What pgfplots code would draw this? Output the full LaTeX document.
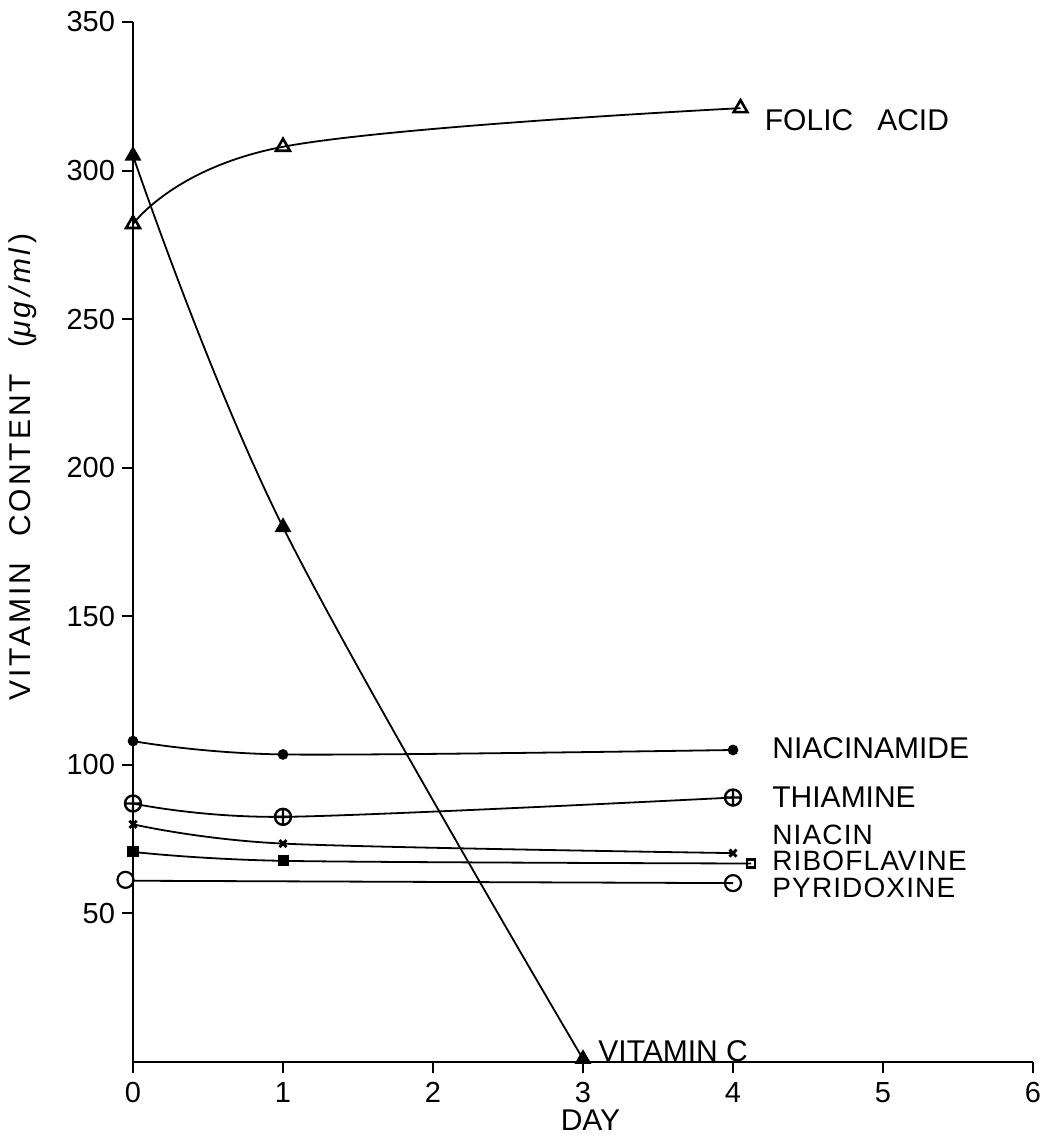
\documentclass[border=0pt]{standalone}
\usepackage{pgfplots}
\pgfplotsset{compat=1.18}
\usepackage{fontspec}
\setmainfont{Liberation Sans}
\newfontfamily\ylbl[LetterSpace=10]{Liberation Sans}
\newfontfamily\slbl[LetterSpace=4]{Liberation Sans}
\begin{document}
\begin{tikzpicture}
\begin{axis}[
  at={(0,0)}, anchor=south west,
  scale only axis, width=450pt, height=520pt,
  xmin=0, xmax=6, ymin=0, ymax=350,
  axis x line*=bottom, axis y line*=left,
  axis line style={-, line width=1.2pt},
  xtick={0,1,2,3,4,5,6}, ytick={50,100,150,200,250,300,350},
  tick align=outside, major tick length=5.5pt,
  tick style={line width=1pt, black},
  ticklabel style={font=\fontsize{14.5}{16}\selectfont},
  xticklabel style={yshift=-1pt},
  /pgf/number format/assume math mode=true,
  clip=false,
  every axis plot/.append style={line width=0.9pt, black},
]
% Folic acid
\addplot[smooth, tension=0.65, mark=triangle, mark size=4pt, mark options={line width=1.3pt, fill=white}] coordinates {(0,282) (1,308) (4.05,321)};
% Vitamin C
\addplot[smooth, tension=0.6, mark=triangle*, mark size=4pt] coordinates {(0,305) (1,180) (3,1)};
% Niacinamide
\addplot[smooth, mark=*, mark size=2.2pt] coordinates {(0,108) (1,103.5) (4,105)};
% Thiamine
\addplot[smooth, mark=oplus, mark size=4pt, mark options={line width=1.2pt, fill=white}] coordinates {(0,87) (1,82.5) (4,89)};
% Niacin
\addplot[smooth, mark=x, mark size=2.5pt, mark options={line width=1.4pt}] coordinates {(0,80) (1,73.5) (4,70.3)};
% Riboflavine
\addplot[smooth, no marks] coordinates {(0,70.7) (1,67.7) (4.12,66.8)};
\addplot[only marks, mark=square*, mark size=2.3pt] coordinates {(0,70.7) (1,67.7)};
\addplot[only marks, mark=square, mark size=2pt, mark options={fill=white, line width=1.2pt}] coordinates {(4.12,66.8)};
% Pyridoxine
\addplot[no marks] coordinates {(0,61) (4,60.2)};
\addplot[only marks, mark=o, mark size=4pt, mark options={fill=white, line width=1.1pt}] coordinates {(-0.05,61.3) (4,60.2)};

\begin{scope}[every node/.style={anchor=west, font=\fontsize{15}{17}\selectfont, inner sep=0pt}]
\node at (axis cs:4.21,317) {FOLIC\hspace{12pt}ACID};
\node at (axis cs:4.26,105.7) {NIACINAMIDE};
\node at (axis cs:4.26,89.2) {THIAMINE};
\node at (axis cs:3.1,3.6) {VITAMIN C};
\end{scope}
\begin{scope}[every node/.style={anchor=west, font=\slbl\fontsize{14}{16}\selectfont, inner sep=0pt}]
\node at (axis cs:4.26,76.6) {NIACIN};
\node at (axis cs:4.26,67.6) {RIBOFLAVINE};
\node at (axis cs:4.26,58.6) {PYRIDOXINE};
\end{scope}
\node[font=\fontsize{15}{17}\selectfont] at (axis cs:3.05,0) [yshift=-29pt] {DAY};
\node[rotate=90, font=\ylbl\fontsize{15}{17}\selectfont] at (axis description cs:-0.122,0.572) {VITAMIN\hspace{13pt}CONTENT\hspace{13pt}(\textit{μg\,/\,ml\,})};
\end{axis}
\pgfresetboundingbox
\path[use as bounding box] (-66.5pt,-38pt) rectangle (457pt,531pt);
\end{tikzpicture}
\end{document}
